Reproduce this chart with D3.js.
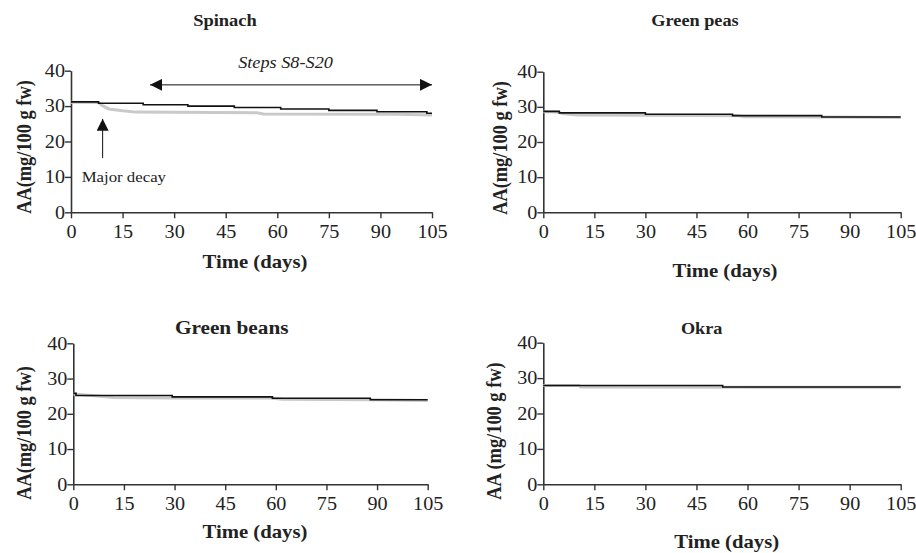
<!DOCTYPE html>
<html>
<head>
<meta charset="utf-8">
<script src="https://cdn.jsdelivr.net/npm/d3@7"></script>
<style>
body { margin:0; background:#fff; }
</style>
</head>
<body>
<div id="chart"></div>
<script>
// tick labels
var day_ticks = [0,15,30,45,60,75,90,105];
var aa_ticks = [0,10,20,30,40];

// Spinach
var spinach_black_days = [0, 8, 21, 34, 47.5, 61, 75, 89, 103.5, 105];
var spinach_black_aa   = [31.2, 30.8, 30.4, 30.0, 29.6, 29.2, 28.8, 28.4, 28.0, 28.0];
var spinach_gray_days  = [0, 8, 9, 11, 15, 19, 54, 56, 95, 105];
var spinach_gray_aa    = [31.1, 31.0, 30.2, 29.2, 28.7, 28.3, 28.1, 27.8, 27.7, 27.5];

// Green peas
var peas_black_days = [0, 4.7, 30, 55.6, 81.8, 105];
var peas_black_aa   = [28.7, 28.3, 27.9, 27.5, 27.1, 27.1];
var peas_gray_days  = [0, 4, 6, 10, 30, 57, 59, 82, 105];
var peas_gray_aa    = [28.6, 28.5, 28.0, 27.7, 27.6, 27.5, 27.2, 27.1, 27.0];

// Green beans
var beans_black_days = [0, 0.8, 29.3, 59, 88, 105];
var beans_black_aa   = [25.8, 25.2, 24.8, 24.4, 24.0, 24.0];
var beans_gray_days  = [0, 8, 12, 30, 58, 62, 88, 105];
var beans_gray_aa    = [25.6, 25.0, 24.6, 24.5, 24.5, 24.1, 24.0, 23.8];

// Okra
var okra_black_days = [0, 52.7, 105];
var okra_black_aa   = [27.9, 27.5, 27.5];
var okra_gray_days  = [0, 10.5, 11, 105];
var okra_gray_aa    = [27.9, 27.9, 27.5, 27.4];

var sx = 1.12; // the original type looks stretched sideways
var font = "'Liberation Serif','Times New Roman',serif";
var ink = "#222";

function zip(a, b) { return a.map(function(d, i) { return [d, b[i]]; }); }

var panels = [
  { title:"Spinach", ylab:"AA(mg/100 g fw)", black:zip(spinach_black_days, spinach_black_aa), gray:zip(spinach_gray_days, spinach_gray_aa),
    x0:71, x1:432, y0:70.7, y1:212.3, tx:225, ty:26, tsize:16.5, lx:255, ly:268, yx:31, yy:147 },
  { title:"Green peas", ylab:"AA(mg/100 g fw)", black:zip(peas_black_days, peas_black_aa), gray:zip(peas_gray_days, peas_gray_aa),
    x0:543.3, x1:900.7, y0:71.7, y1:212.3, tx:695, ty:26, tsize:16.3, lx:725, ly:277, yx:507, yy:148 },
  { title:"Green beans", ylab:"AA(mg/100 g fw)", black:zip(beans_black_days, beans_black_aa), gray:zip(beans_gray_days, beans_gray_aa),
    x0:73.3, x1:427.7, y0:343.3, y1:484.3, tx:231.7, ty:334, tsize:19, lx:255, ly:538, yx:31, yy:433 },
  { title:"Okra", ylab:"AA (mg/100 g fw)", black:zip(okra_black_days, okra_black_aa), gray:zip(okra_gray_days, okra_gray_aa),
    x0:543.3, x1:900.7, y0:342.7, y1:484.3, tx:701.7, ty:334, tsize:16.3, lx:726.7, ly:548, yx:501, yy:431 }
];

var svg = d3.select("#chart").append("svg")
    .attr("width", 916)
    .attr("height", 553);

// arrow heads
var defs = svg.append("defs");
defs.append("marker")
    .attr("id", "head")
    .attr("viewBox", "0 0 10 10")
    .attr("refX", 10).attr("refY", 5)
    .attr("markerUnits", "userSpaceOnUse")
    .attr("markerWidth", 12).attr("markerHeight", 12)
    .attr("orient", "auto-start-reverse")
    .append("path")
    .attr("d", "M0,0L10,5L0,10Z")
    .attr("fill", "#111");

function put_text(x, y, str, size, weight, style, rot) {
  var t = "translate(" + x + "," + y + ")";
  t += rot ? " rotate(" + rot + ") scale(1," + sx + ")" : " scale(" + sx + ",1)";
  return svg.append("text")
      .attr("transform", t)
      .attr("text-anchor", "middle")
      .attr("font-family", font)
      .attr("font-size", size)
      .attr("font-weight", weight || "normal")
      .attr("font-style", style || "normal")
      .attr("fill", ink)
      .text(str);
}

panels.forEach(function(p, i) {
  var x = d3.scaleLinear().domain([0, 105]).range([p.x0, p.x1]);
  var y = d3.scaleLinear().domain([0, 40]).range([p.y1, p.y0]);
  var g = svg.append("g");

  // AXIS - y
  var ya = g.append("g")
      .attr("transform", "translate(" + p.x0 + ",0)")
      .call(d3.axisLeft(y).tickValues(aa_ticks).tickSize(6).tickSizeOuter(0).tickPadding(6));
  // AXIS - x
  var xa = g.append("g")
      .attr("transform", "translate(0," + p.y1 + ")")
      .call(d3.axisBottom(x).tickValues(day_ticks).tickSize(6).tickSizeOuter(0));

  [ya, xa].forEach(function(a) {
    a.select(".domain").attr("stroke", "#333").attr("stroke-width", 1.6);
    a.selectAll(".tick line").attr("stroke", "#333").attr("stroke-width", 1.4);
    a.selectAll("text")
        .attr("font-family", font)
        .attr("font-size", 18)
        .attr("fill", ink);
  });
  ya.selectAll("text").attr("x", -6 / sx).attr("transform", "scale(" + sx + ",1)");
  xa.selectAll("text").attr("dy", null).attr("y", 25.7).attr("transform", "scale(" + sx + ",1)");

  // gray series below, black step series on top
  var gray_line = d3.line()
      .x(function(d) { return x(d[0]); })
      .y(function(d) { return y(d[1]); });
  var step_line = d3.line()
      .curve(d3.curveStepAfter)
      .x(function(d) { return x(d[0]); })
      .y(function(d) { return y(d[1]); });

  g.append("path").datum(p.gray)
      .attr("d", gray_line)
      .attr("fill", "none")
      .attr("stroke", "#c9c9c9")
      .attr("stroke-width", 3);
  g.append("path").datum(p.black)
      .attr("d", step_line)
      .attr("fill", "none")
      .attr("stroke", "#111")
      .attr("stroke-width", 1.6);

  put_text(p.tx, p.ty, p.title, p.tsize, "bold");
  put_text(p.lx, p.ly, "Time (days)", 18.5, "bold");
  put_text(p.yx, p.yy, p.ylab, 18.4, "bold", null, -90);

  // annotations for the spinach panel
  if (i == 0) {
    g.append("line")
        .attr("x1", x(23)).attr("x2", x(105))
        .attr("y1", y(36)).attr("y2", y(36))
        .attr("stroke", "#111").attr("stroke-width", 1)
        .attr("marker-start", "url(#head)")
        .attr("marker-end", "url(#head)");
    put_text(x(62.4), y(40.8), "Steps S8-S20", 16.3, "normal", "italic");

    g.append("line")
        .attr("x1", x(9.2)).attr("x2", x(9.2))
        .attr("y1", y(15.3)).attr("y2", y(26.4))
        .attr("stroke", "#111").attr("stroke-width", 1)
        .attr("marker-end", "url(#head)");
    put_text(x(3.1), y(8.6), "Major decay", 15, "normal").attr("text-anchor", "start");
  }
});
</script>
</body>
</html>
